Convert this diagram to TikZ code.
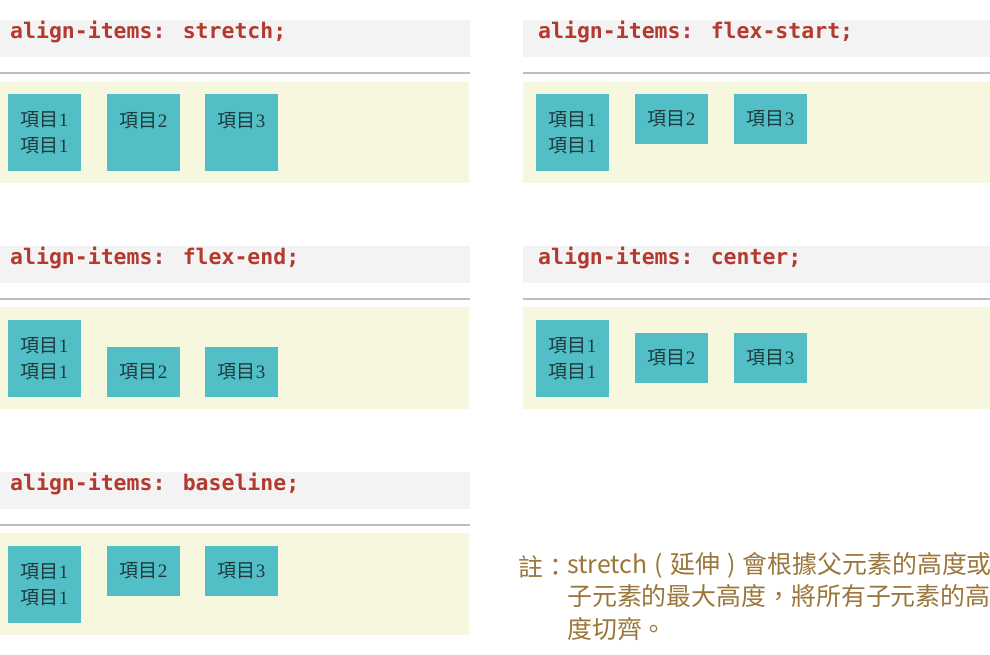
\documentclass[tikz,border=0pt]{standalone}
\usepackage{fontspec}
\setmainfont{Liberation Serif}
\newfontfamily\cjk{Noto Sans CJK TC}
\newfontfamily\codefont{DejaVu Sans Mono}

\definecolor{codered}{RGB}{178,58,46}
\definecolor{barcol}{RGB}{243,243,243}
\definecolor{rulecol}{RGB}{190,190,190}
\definecolor{flexbg}{RGB}{247,246,222}
\definecolor{itemcol}{RGB}{82,190,198}
\definecolor{itemtxt}{RGB}{30,58,60}
\definecolor{notecol}{RGB}{155,118,58}

\newcommand{\xiang}[1]{{\cjk 項目}#1}
\newcommand{\gap}{\hspace{7.2pt}}

\begin{document}
\begin{tikzpicture}[x=1pt, y=-1pt,
  code/.style={anchor=base west, inner sep=0pt, text=codered, font=\codefont\bfseries\fontsize{21.5}{26}\selectfont},
  item/.style={anchor=north west, fill=itemcol, text=itemtxt, minimum width=73pt, inner sep=0pt, align=center, font=\fontsize{19}{26}\selectfont},
  tall/.style={minimum height=77pt},
  short/.style={minimum height=50pt},
  note/.style={inner sep=0pt, text=notecol, font=\cjk\fontsize{24.9}{32.5}\selectfont}]
\fill[white] (0,0) rectangle (990,654);
\useasboundingbox (0,0) rectangle (990,654);

% stretch
\fill[barcol] (0,20) rectangle (470,57);
\node[code] (hstretch) at (10,38) {align-items: stretch;};
\draw[rulecol, line width=1.2pt] (0,73) -- (470,73);
\fill[flexbg] (0,82) rectangle (469,183);
\node[item, tall] (s1) at (8,94) {\xiang1\\\xiang1};
\node[item, tall] (s2) at (107,94) {\xiang2\\~};
\node[item, tall] (s3) at (205,94) {\xiang3\\~};

% flex-start
\fill[barcol] (523,20) rectangle (990,57);
\node[code] (hstart) at (538,38) {align-items: flex-start;};
\draw[rulecol, line width=1.2pt] (523,73) -- (990,73);
\fill[flexbg] (523,82) rectangle (990,183);
\node[item, tall] (fs1) at (536,94) {\xiang1\\\xiang1};
\node[item, short] (fs2) at (635,94) {\xiang2};
\node[item, short] (fs3) at (734,94) {\xiang3};

% flex-end
\fill[barcol] (0,246) rectangle (470,283);
\node[code] (hend) at (10,264) {align-items: flex-end;};
\draw[rulecol, line width=1.2pt] (0,299) -- (470,299);
\fill[flexbg] (0,307) rectangle (469,409);
\node[item, tall] (fe1) at (8,320) {\xiang1\\\xiang1};
\node[item, short] (fe2) at (107,347) {\xiang2};
\node[item, short] (fe3) at (205,347) {\xiang3};

% center
\fill[barcol] (523,246) rectangle (990,283);
\node[code] (hcenter) at (538,264) {align-items: center;};
\draw[rulecol, line width=1.2pt] (523,299) -- (990,299);
\fill[flexbg] (523,307) rectangle (990,409);
\node[item, tall] (c1) at (536,320) {\xiang1\\\xiang1};
\node[item, short] (c2) at (635,333) {\xiang2};
\node[item, short] (c3) at (734,333) {\xiang3};

% baseline
\fill[barcol] (0,472) rectangle (470,509);
\node[code] (hbase) at (10,490) {align-items: baseline;};
\draw[rulecol, line width=1.2pt] (0,525) -- (470,525);
\fill[flexbg] (0,533) rectangle (469,635);
\node[item, tall] (b1) at (8,546) {\xiang1\\\xiang1};
\node[item, short] (b2) at (107,546) {\xiang2};
\node[item, short] (b3) at (205,546) {\xiang3};

% note
\node[note, anchor=base west] (zhu) at (518,576) {註：};
\node[note, anchor=north west, align=left] (notetext) at (567,552) {stretch\gap{}(\gap{}延伸\gap{})\gap{}會根據父元素的高度或\\子元素的最大高度，將所有子元素的高\\度切齊。};
\end{tikzpicture}
\end{document}
